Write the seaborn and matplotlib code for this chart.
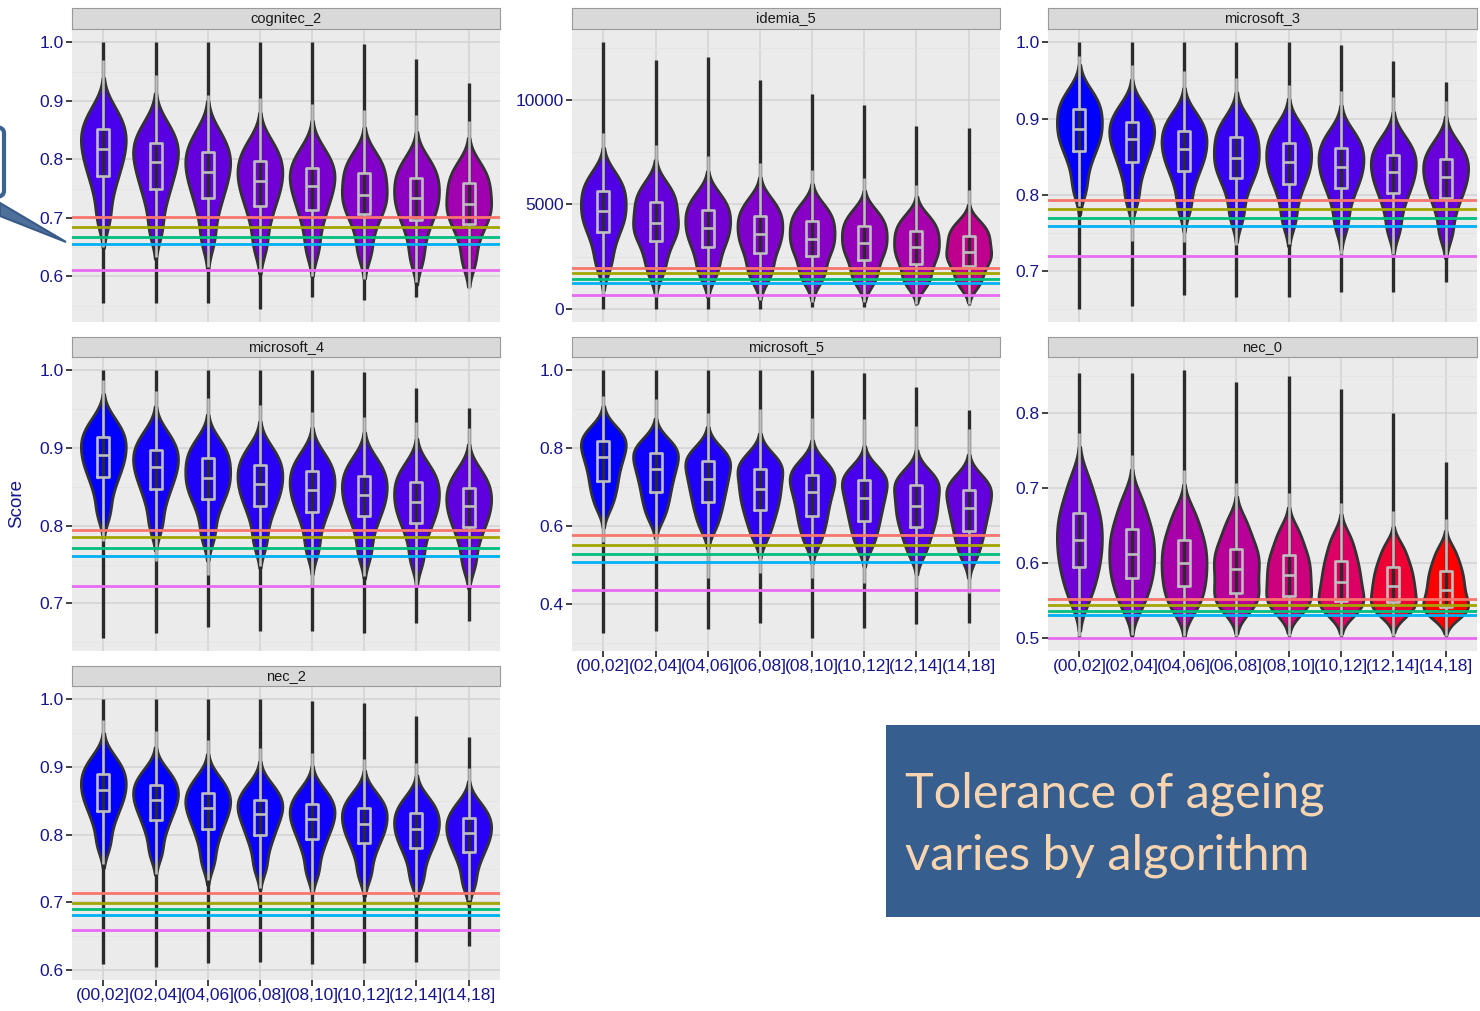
import numpy as np
import pandas as pd
import matplotlib
matplotlib.use("Agg")
import matplotlib.pyplot as plt
import seaborn as sns
from matplotlib.colors import LinearSegmentedColormap
from matplotlib.patches import Rectangle, FancyBboxPatch, Polygon
from matplotlib.ticker import AutoMinorLocator

age_groups = ["(00,02]", "(02,04]", "(04,06]", "(06,08]", "(08,10]", "(10,12]", "(12,14]", "(14,18]"]
facets = ["cognitec_2", "idemia_5", "microsoft_3", "microsoft_4", "microsoft_5", "nec_0", "nec_2"]

############# score distributions: 5%,15%,...,95% points per age group
dec_cognitec_2 = [
    [.700, .744, .772, .792, .808, .824, .838, .852, .866, .888],
    [.680, .723, .750, .770, .786, .802, .815, .828, .842, .863],
    [.663, .706, .734, .754, .770, .786, .799, .813, .827, .849],
    [.653, .694, .721, .740, .755, .770, .783, .797, .811, .831],
    [.647, .687, .713, .732, .747, .761, .774, .786, .799, .819],
    [.642, .681, .706, .721, .733, .747, .762, .777, .790, .809],
    [.632, .672, .697, .714, .727, .741, .755, .769, .782, .801],
    [.627, .666, .690, .705, .716, .730, .745, .760, .773, .792]]
dec_idemia_5 = [
    [2100, 3020, 3698, 4141, 4485, 4872, 5253, 5634, 5982, 6505],
    [1800, 2597, 3253, 3632, 3927, 4301, 4714, 5126, 5463, 5969],
    [1650, 2314, 2936, 3357, 3685, 4040, 4377, 4713, 5033, 5513],
    [1500, 2044, 2666, 3088, 3416, 3771, 4108, 4444, 4764, 5244],
    [1400, 1912, 2507, 2893, 3193, 3532, 3869, 4206, 4512, 4971],
    [1300, 1782, 2349, 2720, 3009, 3333, 3650, 3968, 4259, 4697],
    [1200, 1586, 2142, 2499, 2777, 3095, 3412, 3730, 4016, 4445],
    [1150, 1563, 2063, 2349, 2571, 2857, 3174, 3491, 3748, 4134]]
dec_microsoft_3 = [
    [.809, .839, .858, .871, .880, .891, .902, .912, .922, .936],
    [.796, .825, .843, .857, .867, .877, .886, .895, .904, .918],
    [.785, .814, .832, .845, .854, .865, .874, .884, .893, .907],
    [.773, .803, .822, .834, .843, .854, .865, .876, .886, .900],
    [.767, .796, .815, .828, .837, .848, .858, .868, .878, .892],
    [.762, .791, .809, .822, .831, .842, .851, .861, .870, .884],
    [.756, .784, .802, .815, .824, .835, .844, .853, .862, .876],
    [.750, .778, .796, .809, .818, .829, .838, .847, .856, .870]]
dec_microsoft_4 = [
    [.817, .845, .863, .876, .885, .896, .905, .914, .923, .937],
    [.801, .829, .847, .860, .870, .880, .889, .898, .907, .921],
    [.788, .817, .835, .847, .856, .866, .877, .887, .896, .910],
    [.779, .808, .826, .839, .848, .859, .868, .878, .887, .901],
    [.771, .800, .818, .831, .840, .851, .860, .870, .879, .893],
    [.765, .794, .812, .825, .834, .845, .854, .864, .873, .887],
    [.757, .786, .804, .816, .826, .836, .846, .856, .865, .879],
    [.752, .780, .798, .810, .820, .830, .839, .849, .858, .872]]
dec_microsoft_5 = [
    [.654, .690, .716, .744, .766, .786, .803, .820, .832, .851],
    [.626, .661, .687, .714, .734, .755, .772, .789, .801, .820],
    [.601, .637, .663, .689, .709, .730, .749, .767, .779, .798],
    [.578, .616, .642, .667, .686, .707, .728, .748, .761, .780],
    [.563, .600, .626, .653, .675, .696, .713, .731, .744, .763],
    [.553, .589, .615, .641, .661, .682, .700, .718, .730, .749],
    [.535, .573, .599, .623, .642, .663, .684, .705, .718, .737],
    [.526, .563, .589, .616, .636, .657, .676, .694, .707, .726]]
dec_nec_0 = [
    [.553, .576, .594, .609, .624, .638, .653, .667, .685, .711],
    [.543, .563, .579, .592, .605, .619, .632, .645, .662, .685],
    [.539, .554, .569, .581, .594, .606, .619, .631, .647, .668],
    [.539, .549, .559, .572, .585, .597, .608, .619, .634, .655],
    [.537, .545, .555, .566, .577, .588, .599, .610, .624, .643],
    [.535, .541, .549, .559, .569, .580, .591, .603, .617, .635],
    [.533, .539, .547, .556, .565, .574, .584, .594, .606, .622],
    [.531, .535, .541, .550, .559, .569, .579, .589, .601, .617]]
dec_nec_2 = [
    [.786, .816, .835, .849, .859, .870, .880, .890, .900, .915],
    [.774, .803, .821, .835, .845, .855, .864, .873, .882, .896],
    [.760, .789, .808, .822, .833, .843, .852, .861, .871, .885],
    [.753, .782, .800, .814, .825, .835, .844, .852, .861, .875],
    [.746, .775, .793, .807, .817, .827, .836, .845, .854, .868],
    [.742, .770, .788, .801, .810, .821, .830, .839, .848, .862],
    [.735, .763, .781, .793, .803, .813, .822, .832, .841, .855],
    [.729, .757, .774, .787, .796, .806, .815, .824, .833, .847]]
deciles = [dec_cognitec_2, dec_idemia_5, dec_microsoft_3, dec_microsoft_4,
           dec_microsoft_5, dec_nec_0, dec_nec_2]

############# boxplot stats (facet order as above)
whisk_lo = [[.650, .633, .616, .607, .600, .596, .590, .579],
            [714, 555, 555, 397, 317, 317, 238, 238],
            [.785, .740, .738, .734, .736, .723, .723, .720],
            [.780, .754, .737, .748, .724, .735, .724, .722],
            [.561, .527, .468, .480, .468, .455, .442, .430],
            [.502, .503, .502, .502, .502, .502, .502, .502],
            [.757, .742, .733, .721, .715, .715, .708, .703]]
q1 = [[.772, .750, .734, .721, .713, .706, .697, .690],
      [3698, 3253, 2936, 2666, 2507, 2349, 2142, 2063],
      [.858, .843, .832, .822, .815, .809, .802, .796],
      [.863, .847, .835, .826, .818, .812, .804, .798],
      [.716, .687, .663, .642, .626, .615, .599, .589],
      [.594, .579, .569, .559, .555, .549, .547, .541],
      [.835, .821, .808, .800, .793, .788, .781, .774]]
median = [[.817, .795, .779, .763, .755, .740, .734, .723],
          [4682, 4095, 3872, 3603, 3364, 3174, 2936, 2698],
          [.886, .873, .860, .848, .843, .837, .830, .824],
          [.891, .876, .861, .854, .846, .840, .831, .825],
          [.778, .746, .721, .697, .687, .673, .653, .648],
          [.631, .612, .600, .592, .583, .574, .569, .564],
          [.866, .851, .839, .831, .823, .816, .808, .802]]
q3 = [[.852, .828, .813, .797, .786, .777, .769, .760],
      [5634, 5126, 4713, 4444, 4206, 3968, 3730, 3491],
      [.912, .895, .884, .876, .868, .861, .853, .847],
      [.914, .898, .887, .878, .870, .864, .856, .849],
      [.820, .789, .767, .748, .731, .718, .705, .694],
      [.667, .645, .631, .619, .610, .603, .594, .589],
      [.890, .873, .861, .852, .845, .839, .832, .824]]
whisk_hi = [[.970, .945, .910, .905, .895, .885, .875, .865],
            [8412, 7856, 7300, 6983, 6665, 6269, 5951, 5713],
            [.982, .970, .962, .953, .944, .936, .929, .923],
            [.988, .973, .964, .955, .946, .940, .933, .926],
            [.935, .926, .892, .900, .879, .875, .858, .850],
            [.773, .744, .724, .706, .693, .680, .669, .658],
            [.970, .953, .940, .928, .921, .912, .906, .899]]

# full min / max of scores
range_lo = [[.554, .554, .554, .545, .565, .560, .565, .582],
            [0, 0, 0, 0, 79, 79, 159, 190],
            [.651, .655, .669, .666, .666, .673, .673, .686],
            [.656, .662, .670, .664, .665, .662, .675, .678],
            [.328, .332, .336, .353, .315, .340, .349, .353],
            [.500, .500, .500, .500, .500, .500, .500, .500],
            [.609, .605, .611, .612, .609, .610, .612, .635]]
range_hi = [[1.0, 1.0, 1.0, 1.0, 1.0, .997, .971, .931],
            [12775, 11934, 12061, 10950, 10316, 9792, 8776, 8649],
            [1.0, 1.0, 1.0, 1.0, 1.0, .997, .976, .948],
            [1.0, 1.0, 1.0, 1.0, 1.0, .998, .977, .951],
            [1.0, 1.0, 1.0, 1.0, 1.0, .994, .958, .898],
            [.854, .854, .857, .842, .849, .832, .800, .735],
            [1.0, 1.0, 1.0, 1.0, .998, .994, .976, .945]]

# fill value of each violin (0 = blue, 1 = red)
fill_level = [[.225, .281, .316, .35, .38, .41, .446, .52],
              [.25, .31, .36, .40, .43, .48, .54, .65],
              [0, .09, .13, .17, .21, .25, .29, .33],
              [0, .06, .09, .125, .16, .20, .25, .30],
              [0, .05, .10, .15, .19, .225, .275, .31],
              [.35, .454, .554, .618, .709, .786, .89, 1.0],
              [0, .01, .02, .035, .05, .07, .09, .13]]

# threshold lines
thresholds = [[.701, .684, .668, .655, .611],
              [1936, 1698, 1428, 1222, 635],
              [.794, .782, .770, .759, .720],
              [.795, .785, .772, .761, .722],
              [.578, .553, .529, .508, .436],
              [.551, .543, .5355, .530, .500],
              [.714, .699, .6895, .681, .659]]

y_ticks = [[.6, .7, .8, .9, 1.0],
           [0, 5000, 10000],
           [.7, .8, .9, 1.0],
           [.7, .8, .9, 1.0],
           [.4, .6, .8, 1.0],
           [.5, .6, .7, .8],
           [.6, .7, .8, .9, 1.0]]

thr_colors = ["#F8766D", "#A3A500", "#00BF7D", "#00B0F6", "#E76BF3"]
fill_cmap = LinearSegmentedColormap.from_list(
    "age", [(0, "#0000FF"), (0.2, "#4000F0"), (0.4, "#8000CC"),
            (0.6, "#B4009E"), (0.8, "#E00060"), (1, "#FF0000")])
navy = "#16168A"

sns.set_style("darkgrid", {"axes.facecolor": "#EBEBEB", "grid.color": "#D3D3D3"})
plt.rcParams['font.family'] = ['Liberation Sans', 'DejaVu Sans']

W, H = 1480, 1011
fig = plt.figure(figsize=(W / 100, H / 100), dpi=100)


def frac(x0, y0, x1, y1):
    return [x0 / W, 1 - y1 / H, (x1 - x0) / W, (y1 - y0) / H]


col_px = [(72, 500), (572, 1000), (1048, 1477)]
row_px = [(29, 322), (357, 651), (686, 980)]
strip_px = [(8, 29), (337, 357), (666, 686)]
grid_pos = [(0, 0), (0, 1), (0, 2), (1, 0), (1, 1), (1, 2), (2, 0)]
bottom_facets = ["microsoft_5", "nec_0", "nec_2"]
xpos = np.arange(len(age_groups))

for i, name in enumerate(facets):
    r, c = grid_pos[i]
    ax = fig.add_axes(frac(col_px[c][0], row_px[r][0], col_px[c][1], row_px[r][1]))

    vdf = pd.DataFrame({"age": np.repeat(age_groups, 10), "score": np.ravel(deciles[i])})
    colors = [fill_cmap(v) for v in fill_level[i]]
    sns.violinplot(data=vdf, x="age", y="score", hue="age", order=age_groups,
                   hue_order=age_groups, palette=colors, saturation=1, legend=False,
                   inner=None, cut=2, bw_adjust=0.7, width=0.86, density_norm="width",
                   linewidth=2.0, linecolor="#333333", ax=ax)

    ax.vlines(xpos, range_lo[i], range_hi[i], color="#2B2B2B", lw=2.4, zorder=1.5)

    box = np.column_stack([whisk_lo[i], q1[i], median[i], q3[i], whisk_hi[i]])
    bdf = pd.DataFrame({"age": np.repeat(age_groups, 5), "score": np.ravel(box)})
    sns.boxplot(data=bdf, x="age", y="score", order=age_groups, fill=False,
                color="#BEBEBE", linecolor="#BEBEBE", width=0.23, whis=(0, 100),
                showcaps=False, showfliers=False, linewidth=1.9, ax=ax)

    for t, col in zip(thresholds[i], thr_colors):
        ax.axhline(t, color=col, lw=2.0, zorder=4)

    ax.set_xlim(-0.6, 7.6)
    ax.set_yticks(y_ticks[i])
    if max(y_ticks[i]) > 100:
        ax.set_yticklabels([f"{t:.0f}" for t in y_ticks[i]])
    else:
        ax.set_yticklabels([f"{t:.1f}" for t in y_ticks[i]])
    ax.yaxis.set_minor_locator(AutoMinorLocator(2))
    ax.grid(True, which="major", color="#D3D3D3", lw=1.1)
    ax.grid(True, which="minor", axis="y", color="#E3E3E3", lw=0.6)
    ax.xaxis.grid(True, which="major", color="#D3D3D3", lw=1.1)
    ax.set_axisbelow(True)
    ax.set_xlabel("")
    ax.set_ylabel("")
    for s in ax.spines.values():
        s.set_visible(False)
    ax.tick_params(axis="y", which="major", length=4, width=1.3, color="#333333",
                   labelsize=12.5, labelcolor=navy, pad=2, left=True)
    ax.tick_params(which="minor", length=0)
    if name in bottom_facets:
        ax.tick_params(axis="x", length=4, width=1.3, color="#333333", labelsize=12.5,
                       labelcolor=navy, pad=2, bottom=True)
    else:
        ax.tick_params(axis="x", length=0, labelbottom=False)

    # facet strip
    sax = fig.add_axes(frac(col_px[c][0], strip_px[r][0], col_px[c][1], strip_px[r][1]))
    sax.set_facecolor("#D9D9D9")
    sax.grid(False)
    sax.set_xticks([])
    sax.set_yticks([])
    for s in sax.spines.values():
        s.set_visible(True)
        s.set_color("#9A9A9A")
        s.set_linewidth(0.8)
    sax.text(0.5, 0.5, name, ha="center", va="center", fontsize=10.5, color="#1A1A1A",
             transform=sax.transAxes)

fig.text(17 / W, 1 - 504 / H, "Score", rotation=90, ha="center", va="center",
         fontsize=13.5, color=navy)

# callout on the left edge
fig.add_artist(Polygon([(0, 1 - 203 / H), (0, 1 - 216 / H), (66 / W, 1 - 242 / H)],
                       closed=True, facecolor="#4D709B", edgecolor="#375A88", lw=1.5,
                       transform=fig.transFigure))
fig.add_artist(FancyBboxPatch((-40 / W, 1 - 197 / H), 44 / W, 70 / H,
                              boxstyle="round,pad=0,rounding_size=0.006",
                              facecolor="white", edgecolor="#3C6390", lw=3,
                              transform=fig.transFigure))

# title box
fig.add_artist(Rectangle((886 / W, 1 - 917 / H), (W - 886) / W, 192 / H,
                         facecolor="#365F8F", edgecolor="none", transform=fig.transFigure))
fig.text(905 / W, 1 - 808 / H, "Tolerance of ageing", fontsize=35, color="#F8D5B0",
         family=["Lato", "DejaVu Sans"], va="baseline", ha="left")
fig.text(905 / W, 1 - 870 / H, "varies by algorithm", fontsize=35, color="#F8D5B0",
         family=["Lato", "DejaVu Sans"], va="baseline", ha="left")

fig.savefig("out.png", dpi=100)
